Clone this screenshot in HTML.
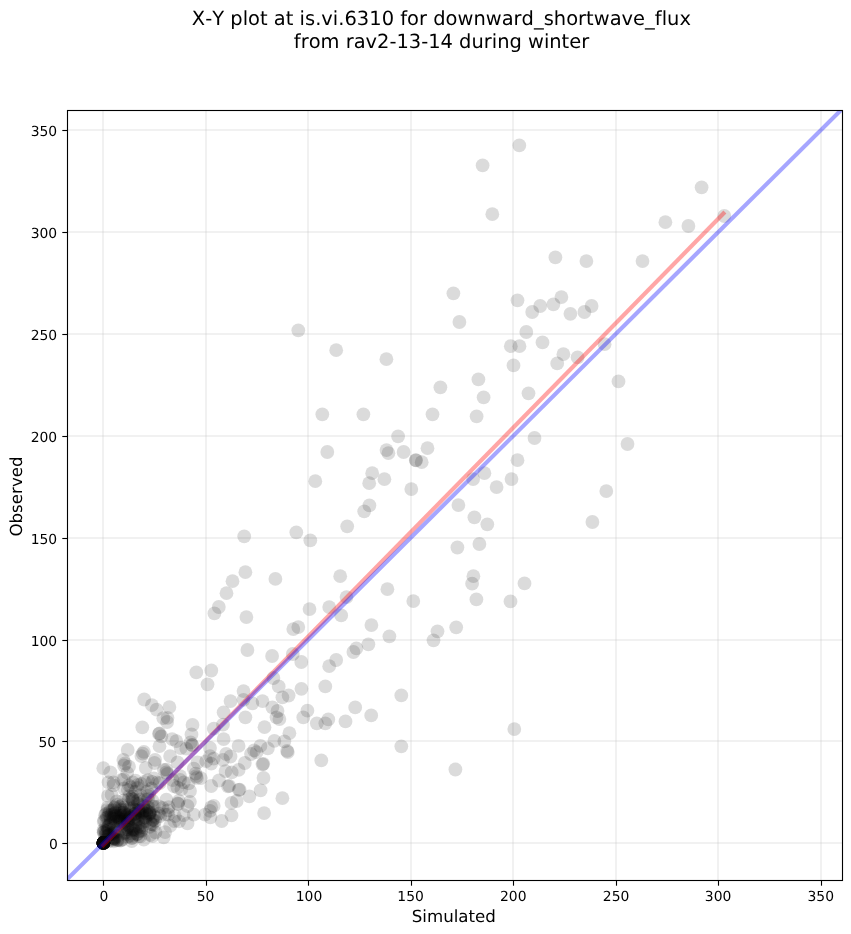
<!DOCTYPE html>
<html><head><meta charset="utf-8"><title>X-Y plot</title>
<style>
html,body{margin:0;padding:0;background:#fff;}
body{width:851px;height:934px;overflow:hidden;}
svg{display:block;will-change:transform;}
text{font-family:"DejaVu Sans","Liberation Sans",sans-serif;fill:#000;font-kerning:none;text-rendering:geometricPrecision;}
.tk{font-size:13.89px;}
.lb{font-size:16.67px;}
.tt{font-size:19.44px;}
</style></head><body>
<svg width="851" height="934" viewBox="0 0 851 934">

<defs><clipPath id="ax"><rect x="67.5" y="110.5" width="775.0" height="770.0"/></clipPath></defs>
<g stroke="#b0b0b0" stroke-opacity="0.18" stroke-width="2" fill="none">
<line x1="103" y1="110.5" x2="103" y2="880.5"/>
<line x1="67.5" y1="843" x2="842.5" y2="843"/>
<line x1="206" y1="110.5" x2="206" y2="880.5"/>
<line x1="67.5" y1="741" x2="842.5" y2="741"/>
<line x1="308" y1="110.5" x2="308" y2="880.5"/>
<line x1="67.5" y1="640" x2="842.5" y2="640"/>
<line x1="411" y1="110.5" x2="411" y2="880.5"/>
<line x1="67.5" y1="538" x2="842.5" y2="538"/>
<line x1="513" y1="110.5" x2="513" y2="880.5"/>
<line x1="67.5" y1="436" x2="842.5" y2="436"/>
<line x1="616" y1="110.5" x2="616" y2="880.5"/>
<line x1="67.5" y1="334" x2="842.5" y2="334"/>
<line x1="718" y1="110.5" x2="718" y2="880.5"/>
<line x1="67.5" y1="232" x2="842.5" y2="232"/>
<line x1="821" y1="110.5" x2="821" y2="880.5"/>
<line x1="67.5" y1="130" x2="842.5" y2="130"/>
</g>
<g clip-path="url(#ax)" fill="#000" fill-opacity="0.14">
<circle cx="701.6" cy="187.3" r="6.9"/>
<circle cx="724.3" cy="216.0" r="6.9"/>
<circle cx="665.4" cy="222.2" r="6.9"/>
<circle cx="688.4" cy="226.0" r="6.9"/>
<circle cx="642.5" cy="261.1" r="6.9"/>
<circle cx="519.3" cy="145.4" r="6.9"/>
<circle cx="482.6" cy="165.4" r="6.9"/>
<circle cx="492.3" cy="214.2" r="6.9"/>
<circle cx="555.4" cy="257.4" r="6.9"/>
<circle cx="586.4" cy="261.1" r="6.9"/>
<circle cx="453.4" cy="293.3" r="6.9"/>
<circle cx="517.5" cy="300.3" r="6.9"/>
<circle cx="561.4" cy="297.1" r="6.9"/>
<circle cx="553.4" cy="304.3" r="6.9"/>
<circle cx="540.2" cy="306.0" r="6.9"/>
<circle cx="532.2" cy="312.0" r="6.9"/>
<circle cx="591.6" cy="306.0" r="6.9"/>
<circle cx="584.4" cy="312.0" r="6.9"/>
<circle cx="570.4" cy="313.8" r="6.9"/>
<circle cx="459.4" cy="322.0" r="6.9"/>
<circle cx="526.3" cy="332.0" r="6.9"/>
<circle cx="510.8" cy="346.2" r="6.9"/>
<circle cx="519.5" cy="346.2" r="6.9"/>
<circle cx="542.5" cy="342.4" r="6.9"/>
<circle cx="513.5" cy="365.4" r="6.9"/>
<circle cx="563.4" cy="354.2" r="6.9"/>
<circle cx="557.2" cy="363.4" r="6.9"/>
<circle cx="577.6" cy="357.4" r="6.9"/>
<circle cx="604.6" cy="344.2" r="6.9"/>
<circle cx="478.4" cy="379.4" r="6.9"/>
<circle cx="440.4" cy="387.3" r="6.9"/>
<circle cx="483.6" cy="397.3" r="6.9"/>
<circle cx="528.5" cy="393.3" r="6.9"/>
<circle cx="618.5" cy="381.4" r="6.9"/>
<circle cx="432.5" cy="414.3" r="6.9"/>
<circle cx="476.6" cy="416.3" r="6.9"/>
<circle cx="534.5" cy="438.0" r="6.9"/>
<circle cx="627.5" cy="444.0" r="6.9"/>
<circle cx="427.5" cy="448.2" r="6.9"/>
<circle cx="421.7" cy="462.2" r="6.9"/>
<circle cx="517.5" cy="460.2" r="6.9"/>
<circle cx="484.4" cy="473.2" r="6.9"/>
<circle cx="473.1" cy="479.1" r="6.9"/>
<circle cx="511.5" cy="479.1" r="6.9"/>
<circle cx="496.6" cy="487.1" r="6.9"/>
<circle cx="606.3" cy="491.1" r="6.9"/>
<circle cx="458.4" cy="505.1" r="6.9"/>
<circle cx="474.4" cy="517.3" r="6.9"/>
<circle cx="487.3" cy="524.3" r="6.9"/>
<circle cx="592.4" cy="522.0" r="6.9"/>
<circle cx="457.4" cy="547.5" r="6.9"/>
<circle cx="479.4" cy="544.0" r="6.9"/>
<circle cx="298.3" cy="330.3" r="6.9"/>
<circle cx="336.2" cy="350.2" r="6.9"/>
<circle cx="386.4" cy="359.2" r="6.9"/>
<circle cx="322.3" cy="414.3" r="6.9"/>
<circle cx="363.4" cy="414.3" r="6.9"/>
<circle cx="398.1" cy="436.3" r="6.9"/>
<circle cx="327.3" cy="452.0" r="6.9"/>
<circle cx="386.5" cy="450.1" r="6.9"/>
<circle cx="388.4" cy="453.2" r="6.9"/>
<circle cx="403.6" cy="452.0" r="6.9"/>
<circle cx="415.7" cy="460.1" r="6.9"/>
<circle cx="416.1" cy="460.3" r="6.9"/>
<circle cx="315.3" cy="481.2" r="6.9"/>
<circle cx="372.2" cy="473.2" r="6.9"/>
<circle cx="369.2" cy="483.2" r="6.9"/>
<circle cx="384.4" cy="479.2" r="6.9"/>
<circle cx="411.3" cy="489.1" r="6.9"/>
<circle cx="369.4" cy="505.4" r="6.9"/>
<circle cx="364.2" cy="511.3" r="6.9"/>
<circle cx="347.2" cy="526.3" r="6.9"/>
<circle cx="244.2" cy="536.3" r="6.9"/>
<circle cx="296.3" cy="532.3" r="6.9"/>
<circle cx="310.3" cy="540.3" r="6.9"/>
<circle cx="245.4" cy="572.2" r="6.9"/>
<circle cx="232.5" cy="581.2" r="6.9"/>
<circle cx="275.4" cy="578.9" r="6.9"/>
<circle cx="340.2" cy="576.2" r="6.9"/>
<circle cx="226.5" cy="593.2" r="6.9"/>
<circle cx="387.4" cy="589.2" r="6.9"/>
<circle cx="346.5" cy="597.1" r="6.9"/>
<circle cx="413.3" cy="601.1" r="6.9"/>
<circle cx="309.5" cy="609.1" r="6.9"/>
<circle cx="329.2" cy="607.1" r="6.9"/>
<circle cx="341.2" cy="615.4" r="6.9"/>
<circle cx="246.4" cy="617.1" r="6.9"/>
<circle cx="371.4" cy="625.1" r="6.9"/>
<circle cx="298.3" cy="627.1" r="6.9"/>
<circle cx="293.3" cy="629.1" r="6.9"/>
<circle cx="389.4" cy="636.3" r="6.9"/>
<circle cx="368.4" cy="644.3" r="6.9"/>
<circle cx="247.4" cy="650.0" r="6.9"/>
<circle cx="356.4" cy="648.3" r="6.9"/>
<circle cx="353.4" cy="652.0" r="6.9"/>
<circle cx="272.1" cy="656.0" r="6.9"/>
<circle cx="292.8" cy="654.0" r="6.9"/>
<circle cx="301.3" cy="662.0" r="6.9"/>
<circle cx="336.2" cy="660.0" r="6.9"/>
<circle cx="329.2" cy="666.2" r="6.9"/>
<circle cx="473.4" cy="576.2" r="6.9"/>
<circle cx="472.1" cy="583.7" r="6.9"/>
<circle cx="524.5" cy="583.4" r="6.9"/>
<circle cx="476.4" cy="599.4" r="6.9"/>
<circle cx="510.5" cy="601.4" r="6.9"/>
<circle cx="456.2" cy="627.3" r="6.9"/>
<circle cx="437.5" cy="631.3" r="6.9"/>
<circle cx="433.5" cy="640.3" r="6.9"/>
<circle cx="514.3" cy="729.1" r="6.9"/>
<circle cx="455.4" cy="769.5" r="6.9"/>
<circle cx="401.3" cy="695.4" r="6.9"/>
<circle cx="401.3" cy="746.3" r="6.9"/>
<circle cx="355.2" cy="707.4" r="6.9"/>
<circle cx="371.2" cy="715.4" r="6.9"/>
<circle cx="345.5" cy="721.4" r="6.9"/>
<circle cx="328.3" cy="719.4" r="6.9"/>
<circle cx="325.3" cy="723.3" r="6.9"/>
<circle cx="316.8" cy="723.3" r="6.9"/>
<circle cx="321.3" cy="760.3" r="6.9"/>
<circle cx="325.3" cy="686.4" r="6.9"/>
<circle cx="301.4" cy="688.8" r="6.9"/>
<circle cx="307.4" cy="710.7" r="6.9"/>
<circle cx="303.3" cy="717.4" r="6.9"/>
<circle cx="282.4" cy="798.2" r="6.9"/>
<circle cx="264.1" cy="813.1" r="6.9"/>
<circle cx="273.4" cy="678.0" r="6.9"/>
<circle cx="278.7" cy="686.4" r="6.9"/>
<circle cx="243.5" cy="691.1" r="6.9"/>
<circle cx="282.4" cy="697.3" r="6.9"/>
<circle cx="288.6" cy="695.5" r="6.9"/>
<circle cx="230.5" cy="701.1" r="6.9"/>
<circle cx="243.5" cy="699.8" r="6.9"/>
<circle cx="252.3" cy="703.3" r="6.9"/>
<circle cx="262.5" cy="701.1" r="6.9"/>
<circle cx="272.4" cy="707.3" r="6.9"/>
<circle cx="277.5" cy="711.0" r="6.9"/>
<circle cx="276.5" cy="717.3" r="6.9"/>
<circle cx="279.4" cy="719.1" r="6.9"/>
<circle cx="245.4" cy="717.3" r="6.9"/>
<circle cx="223.6" cy="712.3" r="6.9"/>
<circle cx="223.0" cy="724.7" r="6.9"/>
<circle cx="264.5" cy="727.2" r="6.9"/>
<circle cx="289.4" cy="733.2" r="6.9"/>
<circle cx="223.6" cy="739.1" r="6.9"/>
<circle cx="274.4" cy="740.9" r="6.9"/>
<circle cx="284.4" cy="741.3" r="6.9"/>
<circle cx="238.6" cy="745.9" r="6.9"/>
<circle cx="260.4" cy="745.9" r="6.9"/>
<circle cx="267.8" cy="748.4" r="6.9"/>
<circle cx="287.1" cy="750.9" r="6.9"/>
<circle cx="287.8" cy="752.1" r="6.9"/>
<circle cx="254.1" cy="750.3" r="6.9"/>
<circle cx="256.6" cy="752.1" r="6.9"/>
<circle cx="251.0" cy="754.0" r="6.9"/>
<circle cx="226.1" cy="754.0" r="6.9"/>
<circle cx="230.5" cy="756.5" r="6.9"/>
<circle cx="262.5" cy="764.3" r="6.9"/>
<circle cx="263.3" cy="763.8" r="6.9"/>
<circle cx="244.8" cy="763.0" r="6.9"/>
<circle cx="238.6" cy="769.9" r="6.9"/>
<circle cx="231.7" cy="772.4" r="6.9"/>
<circle cx="225.5" cy="771.1" r="6.9"/>
<circle cx="223.0" cy="759.9" r="6.9"/>
<circle cx="263.5" cy="778.0" r="6.9"/>
<circle cx="228.0" cy="786.3" r="6.9"/>
<circle cx="229.2" cy="785.8" r="6.9"/>
<circle cx="238.8" cy="789.8" r="6.9"/>
<circle cx="239.6" cy="789.6" r="6.9"/>
<circle cx="260.6" cy="790.4" r="6.9"/>
<circle cx="249.4" cy="796.3" r="6.9"/>
<circle cx="236.7" cy="801.0" r="6.9"/>
<circle cx="231.5" cy="802.9" r="6.9"/>
<circle cx="231.5" cy="815.4" r="6.9"/>
<circle cx="221.7" cy="821.0" r="6.9"/>
<circle cx="214.4" cy="613.4" r="6.9"/>
<circle cx="196.3" cy="672.4" r="6.9"/>
<circle cx="211.3" cy="670.5" r="6.9"/>
<circle cx="207.5" cy="684.3" r="6.9"/>
<circle cx="144.2" cy="699.5" r="6.9"/>
<circle cx="151.9" cy="705.2" r="6.9"/>
<circle cx="156.6" cy="709.6" r="6.9"/>
<circle cx="169.4" cy="707.1" r="6.9"/>
<circle cx="163.3" cy="718.2" r="6.9"/>
<circle cx="167.5" cy="717.8" r="6.9"/>
<circle cx="167.1" cy="722.0" r="6.9"/>
<circle cx="142.3" cy="727.3" r="6.9"/>
<circle cx="192.5" cy="724.9" r="6.9"/>
<circle cx="213.8" cy="728.7" r="6.9"/>
<circle cx="159.5" cy="733.4" r="6.9"/>
<circle cx="161.4" cy="736.3" r="6.9"/>
<circle cx="191.5" cy="734.4" r="6.9"/>
<circle cx="159.5" cy="746.2" r="6.9"/>
<circle cx="176.3" cy="741.2" r="6.9"/>
<circle cx="180.7" cy="748.0" r="6.9"/>
<circle cx="190.6" cy="742.4" r="6.9"/>
<circle cx="191.9" cy="744.9" r="6.9"/>
<circle cx="186.3" cy="748.7" r="6.9"/>
<circle cx="127.7" cy="749.9" r="6.9"/>
<circle cx="142.7" cy="753.6" r="6.9"/>
<circle cx="143.9" cy="751.8" r="6.9"/>
<circle cx="141.4" cy="756.1" r="6.9"/>
<circle cx="155.1" cy="759.9" r="6.9"/>
<circle cx="154.5" cy="763.0" r="6.9"/>
<circle cx="170.1" cy="756.1" r="6.9"/>
<circle cx="177.6" cy="762.4" r="6.9"/>
<circle cx="210.0" cy="748.0" r="6.9"/>
<circle cx="210.0" cy="756.1" r="6.9"/>
<circle cx="206.2" cy="761.1" r="6.9"/>
<circle cx="211.2" cy="763.6" r="6.9"/>
<circle cx="213.7" cy="758.6" r="6.9"/>
<circle cx="197.5" cy="762.4" r="6.9"/>
<circle cx="193.8" cy="768.6" r="6.9"/>
<circle cx="195.6" cy="773.6" r="6.9"/>
<circle cx="196.2" cy="776.1" r="6.9"/>
<circle cx="196.9" cy="777.9" r="6.9"/>
<circle cx="211.2" cy="786.0" r="6.9"/>
<circle cx="166.4" cy="772.3" r="6.9"/>
<circle cx="163.9" cy="769.8" r="6.9"/>
<circle cx="124.1" cy="765.5" r="6.9"/>
<circle cx="125.0" cy="763.5" r="6.9"/>
<circle cx="129.0" cy="766.7" r="6.9"/>
<circle cx="145.8" cy="768.0" r="6.9"/>
<circle cx="153.9" cy="778.5" r="6.9"/>
<circle cx="157.6" cy="782.3" r="6.9"/>
<circle cx="173.8" cy="786.0" r="6.9"/>
<circle cx="180.1" cy="779.8" r="6.9"/>
<circle cx="183.8" cy="782.3" r="6.9"/>
<circle cx="190.0" cy="791.0" r="6.9"/>
<circle cx="166.4" cy="799.7" r="6.9"/>
<circle cx="178.8" cy="801.0" r="6.9"/>
<circle cx="177.6" cy="803.5" r="6.9"/>
<circle cx="178.2" cy="804.0" r="6.9"/>
<circle cx="187.5" cy="806.0" r="6.9"/>
<circle cx="211.2" cy="807.2" r="6.9"/>
<circle cx="210.0" cy="810.9" r="6.9"/>
<circle cx="213.7" cy="805.9" r="6.9"/>
<circle cx="205.0" cy="814.7" r="6.9"/>
<circle cx="193.8" cy="814.7" r="6.9"/>
<circle cx="187.5" cy="823.4" r="6.9"/>
<circle cx="170.1" cy="825.9" r="6.9"/>
<circle cx="165.1" cy="832.1" r="6.9"/>
<circle cx="123.4" cy="759.9" r="6.9"/>
<circle cx="103.3" cy="768.2" r="6.9"/>
<circle cx="110.4" cy="772.3" r="6.9"/>
<circle cx="108.5" cy="782.3" r="6.9"/>
<circle cx="113.5" cy="782.3" r="6.9"/>
<circle cx="107.9" cy="796.0" r="6.9"/>
<circle cx="111.6" cy="794.7" r="6.9"/>
<circle cx="121.6" cy="779.8" r="6.9"/>
<circle cx="124.1" cy="788.5" r="6.9"/>
<circle cx="132.8" cy="782.3" r="6.9"/>
<circle cx="137.8" cy="784.8" r="6.9"/>
<circle cx="127.8" cy="789.8" r="6.9"/>
<circle cx="210.4" cy="817.4" r="6.9"/>
<circle cx="219.0" cy="780.5" r="6.9"/>
<circle cx="189.9" cy="801.8" r="6.9"/>
<circle cx="177.4" cy="787.5" r="6.9"/>
<circle cx="163.7" cy="837.3" r="6.9"/>
<circle cx="152.5" cy="836.1" r="6.9"/>
<circle cx="174.9" cy="816.1" r="6.9"/>
<circle cx="218.8" cy="607.0" r="6.9"/>
<circle cx="159.0" cy="733.9" r="6.9"/>
<circle cx="172.1" cy="739.1" r="6.9"/>
<circle cx="192.3" cy="745.2" r="6.9"/>
<circle cx="167.4" cy="773.9" r="6.9"/>
<circle cx="200.8" cy="778.1" r="6.9"/>
<circle cx="172.6" cy="780.0" r="6.9"/>
<circle cx="180.1" cy="776.2" r="6.9"/>
<circle cx="188.6" cy="783.3" r="6.9"/>
<circle cx="103.4" cy="842.9" r="6.9"/>
<circle cx="103.4" cy="842.9" r="6.9"/>
<circle cx="103.4" cy="842.9" r="6.9"/>
<circle cx="103.4" cy="842.9" r="6.9"/>
<circle cx="103.4" cy="842.9" r="6.9"/>
<circle cx="103.4" cy="842.9" r="6.9"/>
<circle cx="103.4" cy="842.9" r="6.9"/>
<circle cx="103.4" cy="842.9" r="6.9"/>
<circle cx="103.4" cy="842.9" r="6.9"/>
<circle cx="103.4" cy="842.9" r="6.9"/>
<circle cx="103.4" cy="842.9" r="6.9"/>
<circle cx="103.4" cy="842.9" r="6.9"/>
<circle cx="103.4" cy="842.9" r="6.9"/>
<circle cx="103.4" cy="842.9" r="6.9"/>
<circle cx="103.4" cy="842.9" r="6.9"/>
<circle cx="103.4" cy="842.9" r="6.9"/>
<circle cx="103.4" cy="842.9" r="6.9"/>
<circle cx="103.4" cy="842.9" r="6.9"/>
<circle cx="103.4" cy="842.9" r="6.9"/>
<circle cx="103.4" cy="842.9" r="6.9"/>
<circle cx="103.4" cy="842.9" r="6.9"/>
<circle cx="103.4" cy="842.9" r="6.9"/>
<circle cx="103.4" cy="842.9" r="6.9"/>
<circle cx="103.4" cy="842.9" r="6.9"/>
<circle cx="103.4" cy="842.9" r="6.9"/>
<circle cx="103.4" cy="842.9" r="6.9"/>
<circle cx="103.4" cy="842.9" r="6.9"/>
<circle cx="103.4" cy="842.9" r="6.9"/>
<circle cx="103.4" cy="842.9" r="6.9"/>
<circle cx="103.4" cy="842.9" r="6.9"/>
<circle cx="103.4" cy="842.9" r="6.9"/>
<circle cx="103.4" cy="842.9" r="6.9"/>
<circle cx="103.4" cy="842.9" r="6.9"/>
<circle cx="103.4" cy="842.9" r="6.9"/>
<circle cx="103.4" cy="842.9" r="6.9"/>
<circle cx="103.4" cy="842.9" r="6.9"/>
<circle cx="103.4" cy="842.9" r="6.9"/>
<circle cx="103.4" cy="842.9" r="6.9"/>
<circle cx="103.4" cy="842.9" r="6.9"/>
<circle cx="103.4" cy="842.9" r="6.9"/>
<circle cx="147.4" cy="795.6" r="6.9"/>
<circle cx="139.7" cy="810.4" r="6.9"/>
<circle cx="107.4" cy="817.5" r="6.9"/>
<circle cx="106.0" cy="813.8" r="6.9"/>
<circle cx="132.2" cy="833.6" r="6.9"/>
<circle cx="142.5" cy="812.0" r="6.9"/>
<circle cx="124.3" cy="833.1" r="6.9"/>
<circle cx="115.7" cy="821.3" r="6.9"/>
<circle cx="146.6" cy="810.7" r="6.9"/>
<circle cx="140.5" cy="795.2" r="6.9"/>
<circle cx="149.4" cy="813.5" r="6.9"/>
<circle cx="124.7" cy="821.5" r="6.9"/>
<circle cx="134.1" cy="807.1" r="6.9"/>
<circle cx="120.0" cy="820.9" r="6.9"/>
<circle cx="139.0" cy="836.0" r="6.9"/>
<circle cx="152.7" cy="806.5" r="6.9"/>
<circle cx="131.7" cy="830.1" r="6.9"/>
<circle cx="113.8" cy="816.6" r="6.9"/>
<circle cx="106.1" cy="825.6" r="6.9"/>
<circle cx="155.1" cy="820.8" r="6.9"/>
<circle cx="162.6" cy="807.8" r="6.9"/>
<circle cx="150.4" cy="821.9" r="6.9"/>
<circle cx="142.6" cy="814.9" r="6.9"/>
<circle cx="135.5" cy="825.4" r="6.9"/>
<circle cx="107.6" cy="827.3" r="6.9"/>
<circle cx="159.0" cy="806.3" r="6.9"/>
<circle cx="129.5" cy="825.6" r="6.9"/>
<circle cx="105.0" cy="815.2" r="6.9"/>
<circle cx="107.5" cy="830.6" r="6.9"/>
<circle cx="129.9" cy="835.8" r="6.9"/>
<circle cx="108.9" cy="814.6" r="6.9"/>
<circle cx="140.6" cy="836.4" r="6.9"/>
<circle cx="122.3" cy="812.9" r="6.9"/>
<circle cx="127.7" cy="836.5" r="6.9"/>
<circle cx="119.3" cy="816.4" r="6.9"/>
<circle cx="143.3" cy="805.2" r="6.9"/>
<circle cx="128.4" cy="820.5" r="6.9"/>
<circle cx="138.3" cy="823.1" r="6.9"/>
<circle cx="149.1" cy="794.7" r="6.9"/>
<circle cx="130.0" cy="812.1" r="6.9"/>
<circle cx="110.5" cy="823.9" r="6.9"/>
<circle cx="110.3" cy="810.3" r="6.9"/>
<circle cx="105.2" cy="836.0" r="6.9"/>
<circle cx="144.9" cy="799.5" r="6.9"/>
<circle cx="120.5" cy="809.5" r="6.9"/>
<circle cx="135.0" cy="816.3" r="6.9"/>
<circle cx="105.1" cy="839.8" r="6.9"/>
<circle cx="139.2" cy="799.4" r="6.9"/>
<circle cx="121.1" cy="810.4" r="6.9"/>
<circle cx="114.8" cy="830.8" r="6.9"/>
<circle cx="139.4" cy="831.2" r="6.9"/>
<circle cx="118.8" cy="818.0" r="6.9"/>
<circle cx="121.0" cy="826.8" r="6.9"/>
<circle cx="168.1" cy="814.5" r="6.9"/>
<circle cx="168.0" cy="810.3" r="6.9"/>
<circle cx="160.2" cy="816.1" r="6.9"/>
<circle cx="109.2" cy="825.2" r="6.9"/>
<circle cx="154.1" cy="816.0" r="6.9"/>
<circle cx="115.6" cy="831.7" r="6.9"/>
<circle cx="125.9" cy="832.3" r="6.9"/>
<circle cx="152.4" cy="800.6" r="6.9"/>
<circle cx="113.4" cy="833.6" r="6.9"/>
<circle cx="127.2" cy="819.6" r="6.9"/>
<circle cx="132.8" cy="835.8" r="6.9"/>
<circle cx="119.7" cy="821.5" r="6.9"/>
<circle cx="121.0" cy="813.1" r="6.9"/>
<circle cx="112.3" cy="837.8" r="6.9"/>
<circle cx="127.4" cy="815.0" r="6.9"/>
<circle cx="131.9" cy="838.2" r="6.9"/>
<circle cx="137.4" cy="818.8" r="6.9"/>
<circle cx="133.2" cy="801.2" r="6.9"/>
<circle cx="103.8" cy="832.2" r="6.9"/>
<circle cx="115.1" cy="815.8" r="6.9"/>
<circle cx="152.5" cy="820.0" r="6.9"/>
<circle cx="125.5" cy="818.1" r="6.9"/>
<circle cx="141.0" cy="831.4" r="6.9"/>
<circle cx="110.7" cy="820.2" r="6.9"/>
<circle cx="155.6" cy="817.5" r="6.9"/>
<circle cx="141.4" cy="830.2" r="6.9"/>
<circle cx="165.1" cy="814.3" r="6.9"/>
<circle cx="144.8" cy="817.4" r="6.9"/>
<circle cx="138.1" cy="826.8" r="6.9"/>
<circle cx="134.0" cy="818.8" r="6.9"/>
<circle cx="111.7" cy="814.2" r="6.9"/>
<circle cx="108.4" cy="825.7" r="6.9"/>
<circle cx="113.9" cy="828.0" r="6.9"/>
<circle cx="148.1" cy="799.2" r="6.9"/>
<circle cx="118.3" cy="839.9" r="6.9"/>
<circle cx="130.4" cy="816.5" r="6.9"/>
<circle cx="114.4" cy="813.7" r="6.9"/>
<circle cx="138.3" cy="809.1" r="6.9"/>
<circle cx="140.9" cy="814.2" r="6.9"/>
<circle cx="145.6" cy="817.8" r="6.9"/>
<circle cx="107.8" cy="841.5" r="6.9"/>
<circle cx="106.2" cy="831.2" r="6.9"/>
<circle cx="132.0" cy="837.8" r="6.9"/>
<circle cx="113.6" cy="838.2" r="6.9"/>
<circle cx="142.0" cy="827.2" r="6.9"/>
<circle cx="150.0" cy="813.4" r="6.9"/>
<circle cx="108.4" cy="839.2" r="6.9"/>
<circle cx="109.2" cy="835.1" r="6.9"/>
<circle cx="108.0" cy="835.4" r="6.9"/>
<circle cx="134.1" cy="809.1" r="6.9"/>
<circle cx="139.1" cy="804.0" r="6.9"/>
<circle cx="124.6" cy="807.3" r="6.9"/>
<circle cx="154.8" cy="806.6" r="6.9"/>
<circle cx="137.3" cy="800.9" r="6.9"/>
<circle cx="153.0" cy="819.7" r="6.9"/>
<circle cx="116.3" cy="815.9" r="6.9"/>
<circle cx="158.8" cy="813.7" r="6.9"/>
<circle cx="136.9" cy="834.0" r="6.9"/>
<circle cx="130.0" cy="817.5" r="6.9"/>
<circle cx="126.6" cy="833.9" r="6.9"/>
<circle cx="151.2" cy="824.0" r="6.9"/>
<circle cx="130.8" cy="809.5" r="6.9"/>
<circle cx="108.3" cy="829.3" r="6.9"/>
<circle cx="109.2" cy="834.3" r="6.9"/>
<circle cx="123.3" cy="815.1" r="6.9"/>
<circle cx="114.1" cy="814.4" r="6.9"/>
<circle cx="121.3" cy="840.4" r="6.9"/>
<circle cx="120.0" cy="840.6" r="6.9"/>
<circle cx="124.4" cy="809.9" r="6.9"/>
<circle cx="135.5" cy="817.3" r="6.9"/>
<circle cx="117.1" cy="817.4" r="6.9"/>
<circle cx="109.6" cy="812.1" r="6.9"/>
<circle cx="143.0" cy="818.6" r="6.9"/>
<circle cx="154.2" cy="825.1" r="6.9"/>
<circle cx="129.8" cy="808.4" r="6.9"/>
<circle cx="152.4" cy="824.4" r="6.9"/>
<circle cx="106.5" cy="834.0" r="6.9"/>
<circle cx="112.9" cy="818.3" r="6.9"/>
<circle cx="137.5" cy="834.0" r="6.9"/>
<circle cx="149.6" cy="826.9" r="6.9"/>
<circle cx="112.5" cy="810.1" r="6.9"/>
<circle cx="110.6" cy="834.0" r="6.9"/>
<circle cx="130.0" cy="827.3" r="6.9"/>
<circle cx="133.2" cy="829.4" r="6.9"/>
<circle cx="127.4" cy="823.6" r="6.9"/>
<circle cx="138.5" cy="812.2" r="6.9"/>
<circle cx="138.1" cy="810.3" r="6.9"/>
<circle cx="127.0" cy="817.4" r="6.9"/>
<circle cx="126.3" cy="829.6" r="6.9"/>
<circle cx="139.9" cy="826.9" r="6.9"/>
<circle cx="138.8" cy="814.3" r="6.9"/>
<circle cx="135.4" cy="829.9" r="6.9"/>
<circle cx="135.6" cy="813.7" r="6.9"/>
<circle cx="128.0" cy="820.7" r="6.9"/>
<circle cx="145.9" cy="810.0" r="6.9"/>
<circle cx="104.3" cy="820.5" r="6.9"/>
<circle cx="124.8" cy="812.8" r="6.9"/>
<circle cx="113.5" cy="840.1" r="6.9"/>
<circle cx="113.5" cy="825.4" r="6.9"/>
<circle cx="110.2" cy="823.1" r="6.9"/>
<circle cx="148.8" cy="807.3" r="6.9"/>
<circle cx="142.5" cy="822.5" r="6.9"/>
<circle cx="114.5" cy="838.2" r="6.9"/>
<circle cx="103.7" cy="821.8" r="6.9"/>
<circle cx="124.9" cy="814.2" r="6.9"/>
<circle cx="110.2" cy="815.9" r="6.9"/>
<circle cx="118.5" cy="835.9" r="6.9"/>
<circle cx="103.6" cy="832.3" r="6.9"/>
<circle cx="143.4" cy="806.8" r="6.9"/>
<circle cx="146.3" cy="813.7" r="6.9"/>
<circle cx="121.2" cy="817.8" r="6.9"/>
<circle cx="120.6" cy="819.3" r="6.9"/>
<circle cx="108.3" cy="835.6" r="6.9"/>
<circle cx="117.1" cy="839.7" r="6.9"/>
<circle cx="115.3" cy="812.7" r="6.9"/>
<circle cx="137.7" cy="804.0" r="6.9"/>
<circle cx="138.3" cy="820.2" r="6.9"/>
<circle cx="139.3" cy="828.0" r="6.9"/>
<circle cx="147.5" cy="807.1" r="6.9"/>
<circle cx="125.9" cy="815.8" r="6.9"/>
<circle cx="117.6" cy="831.8" r="6.9"/>
<circle cx="149.9" cy="812.5" r="6.9"/>
<circle cx="134.7" cy="814.1" r="6.9"/>
<circle cx="130.0" cy="817.9" r="6.9"/>
<circle cx="113.4" cy="838.5" r="6.9"/>
<circle cx="139.1" cy="818.6" r="6.9"/>
<circle cx="123.2" cy="823.1" r="6.9"/>
<circle cx="121.4" cy="815.6" r="6.9"/>
<circle cx="127.4" cy="827.4" r="6.9"/>
<circle cx="144.5" cy="810.7" r="6.9"/>
<circle cx="122.5" cy="820.0" r="6.9"/>
<circle cx="105.0" cy="830.6" r="6.9"/>
<circle cx="122.1" cy="839.4" r="6.9"/>
<circle cx="149.7" cy="812.0" r="6.9"/>
<circle cx="128.3" cy="829.5" r="6.9"/>
<circle cx="125.2" cy="824.2" r="6.9"/>
<circle cx="105.4" cy="833.5" r="6.9"/>
<circle cx="114.5" cy="839.1" r="6.9"/>
<circle cx="134.2" cy="814.2" r="6.9"/>
<circle cx="133.7" cy="830.2" r="6.9"/>
<circle cx="128.4" cy="825.5" r="6.9"/>
<circle cx="117.8" cy="820.6" r="6.9"/>
<circle cx="145.5" cy="821.2" r="6.9"/>
<circle cx="127.2" cy="829.2" r="6.9"/>
<circle cx="123.5" cy="812.4" r="6.9"/>
<circle cx="119.6" cy="818.9" r="6.9"/>
<circle cx="135.9" cy="810.0" r="6.9"/>
<circle cx="149.6" cy="814.6" r="6.9"/>
<circle cx="142.5" cy="811.3" r="6.9"/>
<circle cx="114.0" cy="832.6" r="6.9"/>
<circle cx="117.5" cy="840.4" r="6.9"/>
<circle cx="114.1" cy="818.8" r="6.9"/>
<circle cx="110.5" cy="817.9" r="6.9"/>
<circle cx="113.6" cy="841.3" r="6.9"/>
<circle cx="106.4" cy="817.9" r="6.9"/>
<circle cx="147.8" cy="815.3" r="6.9"/>
<circle cx="112.3" cy="839.7" r="6.9"/>
<circle cx="135.4" cy="780.6" r="6.9"/>
<circle cx="127.2" cy="772.8" r="6.9"/>
<circle cx="147.9" cy="780.1" r="6.9"/>
<circle cx="107.3" cy="810.0" r="6.9"/>
<circle cx="132.9" cy="799.3" r="6.9"/>
<circle cx="114.4" cy="807.6" r="6.9"/>
<circle cx="166.5" cy="769.7" r="6.9"/>
<circle cx="107.6" cy="807.7" r="6.9"/>
<circle cx="179.0" cy="821.4" r="6.9"/>
<circle cx="113.5" cy="785.3" r="6.9"/>
<circle cx="147.2" cy="791.4" r="6.9"/>
<circle cx="137.4" cy="787.8" r="6.9"/>
<circle cx="141.2" cy="783.8" r="6.9"/>
<circle cx="129.2" cy="796.1" r="6.9"/>
<circle cx="144.5" cy="781.9" r="6.9"/>
<circle cx="183.7" cy="815.2" r="6.9"/>
<circle cx="128.9" cy="785.5" r="6.9"/>
<circle cx="117.3" cy="804.7" r="6.9"/>
<circle cx="155.5" cy="832.4" r="6.9"/>
<circle cx="143.8" cy="839.7" r="6.9"/>
<circle cx="150.2" cy="835.0" r="6.9"/>
<circle cx="123.7" cy="800.5" r="6.9"/>
<circle cx="135.3" cy="791.7" r="6.9"/>
<circle cx="132.5" cy="799.5" r="6.9"/>
<circle cx="123.8" cy="779.3" r="6.9"/>
<circle cx="181.4" cy="789.1" r="6.9"/>
<circle cx="128.7" cy="799.5" r="6.9"/>
<circle cx="116.8" cy="801.4" r="6.9"/>
<circle cx="131.0" cy="787.2" r="6.9"/>
<circle cx="131.7" cy="841.0" r="6.9"/>
<circle cx="103.5" cy="830.1" r="6.9"/>
<circle cx="151.2" cy="788.4" r="6.9"/>
<circle cx="159.7" cy="783.1" r="6.9"/>
<circle cx="131.7" cy="798.3" r="6.9"/>
<circle cx="168.7" cy="807.2" r="6.9"/>
<circle cx="152.1" cy="782.0" r="6.9"/>
<circle cx="122.3" cy="805.1" r="6.9"/>
<circle cx="119.8" cy="807.0" r="6.9"/>
<circle cx="114.4" cy="807.8" r="6.9"/>
<circle cx="115.2" cy="806.3" r="6.9"/>
<circle cx="174.3" cy="821.2" r="6.9"/>
<circle cx="132.6" cy="796.4" r="6.9"/>
</g>
<g clip-path="url(#ax)" fill="none" stroke-width="4.17" stroke-linecap="square">
<line x1="103.30" y1="845.34" x2="723.42" y2="213.51" stroke="#f00" stroke-opacity="0.35"/>
<line x1="41.80" y1="904.42" x2="882.30" y2="69.05" stroke="#00f" stroke-opacity="0.35" stroke-linecap="butt"/>
</g>
<g stroke="#000" stroke-width="1.11">
<line x1="103.5" y1="880.5" x2="103.5" y2="885.7"/>
<line x1="62.3" y1="843.5" x2="67.5" y2="843.5"/>
<line x1="206.5" y1="880.5" x2="206.5" y2="885.7"/>
<line x1="62.3" y1="741.5" x2="67.5" y2="741.5"/>
<line x1="308.5" y1="880.5" x2="308.5" y2="885.7"/>
<line x1="62.3" y1="640.5" x2="67.5" y2="640.5"/>
<line x1="411.5" y1="880.5" x2="411.5" y2="885.7"/>
<line x1="62.3" y1="538.5" x2="67.5" y2="538.5"/>
<line x1="513.5" y1="880.5" x2="513.5" y2="885.7"/>
<line x1="62.3" y1="436.5" x2="67.5" y2="436.5"/>
<line x1="616.5" y1="880.5" x2="616.5" y2="885.7"/>
<line x1="62.3" y1="334.5" x2="67.5" y2="334.5"/>
<line x1="718.5" y1="880.5" x2="718.5" y2="885.7"/>
<line x1="62.3" y1="232.5" x2="67.5" y2="232.5"/>
<line x1="821.5" y1="880.5" x2="821.5" y2="885.7"/>
<line x1="62.3" y1="130.5" x2="67.5" y2="130.5"/>
</g>
<rect x="67.5" y="110.5" width="775.0" height="770.0" fill="none" stroke="#000" stroke-width="1.11"/>
<text class="tk" x="103.90" y="901.40" text-anchor="middle">0</text>
<text class="tk" x="57.90" y="849.30" text-anchor="end">0</text>
<text class="tk" x="205.60" y="901.40" text-anchor="middle">50</text>
<text class="tk" x="56.10" y="747.42" text-anchor="end">50</text>
<text class="tk" x="309.00" y="901.40" text-anchor="middle">100</text>
<text class="tk" x="57.20" y="645.55" text-anchor="end">100</text>
<text class="tk" x="410.60" y="901.40" text-anchor="middle">150</text>
<text class="tk" x="57.20" y="543.67" text-anchor="end">150</text>
<text class="tk" x="513.30" y="901.40" text-anchor="middle">200</text>
<text class="tk" x="57.20" y="441.80" text-anchor="end">200</text>
<text class="tk" x="616.10" y="901.40" text-anchor="middle">250</text>
<text class="tk" x="57.20" y="339.92" text-anchor="end">250</text>
<text class="tk" x="718.10" y="901.40" text-anchor="middle">300</text>
<text class="tk" x="57.20" y="238.05" text-anchor="end">300</text>
<text class="tk" x="820.80" y="901.40" text-anchor="middle">350</text>
<text class="tk" x="57.20" y="136.17" text-anchor="end">350</text>
<text class="lb" x="453.80" y="921.8" text-anchor="middle">Simulated</text>
<text class="lb" transform="translate(21.7,496.50) rotate(-90)" text-anchor="middle">Observed</text>
<text class="tt" x="441.4" y="25" text-anchor="middle" style="letter-spacing:0.02px">X-Y plot at is.vi.6310 for downward_shortwave_flux</text>
<text class="tt" x="441.5" y="48" text-anchor="middle">from rav2-13-14 during winter</text>
</svg></body></html>
